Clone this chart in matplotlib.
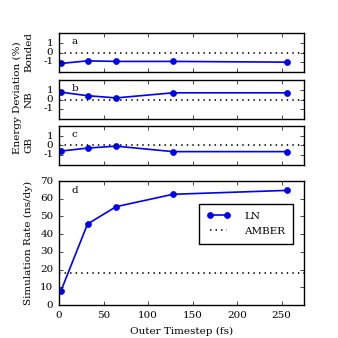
import matplotlib
matplotlib.use("Agg")
import matplotlib.pyplot as plt

plt.style.use('classic')
plt.rcParams['font.family'] = ['DejaVu Serif']
plt.rcParams['font.size'] = 7.5
plt.rcParams['axes.unicode_minus'] = False

timestep = [2, 32, 64, 128, 256]
bonded = [-1.18, -0.9, -0.96, -0.96, -1.04]
nb = [0.79, 0.41, 0.17, 0.72, 0.72]
gb = [-0.6, -0.28, -0.07, -0.66, -0.66]
rate = [7.7, 45.7, 55.5, 62.5, 64.7]
amber_rate = 18.1

panel_names = ['Bonded', 'NB', 'GB']
panel_letters = ['a', 'b', 'c', 'd']

fig = plt.figure(figsize=(3.38, 3.38), dpi=100)
fig.patch.set_facecolor('white')

left, width = 59/338, 245/338
tops = [33, 80, 126]
blue = '#0000ee'
for i, (vals, name) in enumerate(zip([bonded, nb, gb], panel_names)):
    top = tops[i]
    ax = fig.add_axes([left, 1 - (top + 39)/338, width, 39/338])
    ax.plot(timestep, vals, '-o', color=blue, mec=blue, mfc=blue, ms=4.3, lw=1.2)
    ax.axhline(0, color='k', ls=':', lw=1.2)
    ax.set_xlim(0, 275)
    ax.set_ylim(-2.1, 2.1)
    ax.set_yticks([-1, 0, 1])
    ax.set_xticks([0, 50, 100, 150, 200, 250])
    ax.set_xticklabels([])
    ax.set_ylabel(name)
    ax.yaxis.set_label_coords(-0.105, 0.5)
    ax.text(0.05, 0.9, panel_letters[i], transform=ax.transAxes, va='top', ha='left')
    ax.tick_params(length=3)

fig.text(17/338, 1 - 98/338, 'Energy Deviation (%)', rotation=90, va='center', ha='center', fontsize=7.5)

axd = fig.add_axes([left, 1 - 305/338, width, 124/338])
axd.plot(timestep, rate, '-o', color=blue, mec=blue, mfc=blue, ms=4.3, lw=1.2, label='LN')
axd.axhline(amber_rate, color='k', ls=':', lw=1.2, label='AMBER')
axd.set_xlim(0, 275)
axd.set_ylim(0, 70)
axd.set_yticks(range(0, 71, 10))
axd.set_xticks([0, 50, 100, 150, 200, 250])
axd.set_xlabel('Outer Timestep (fs)')
axd.set_ylabel('Simulation Rate (ns/dy)')
axd.text(0.05, 0.96, 'd', transform=axd.transAxes, va='top', ha='left')
axd.tick_params(length=3)
leg = axd.legend(loc='upper right', bbox_to_anchor=(0.955, 0.815), fontsize=7.5, numpoints=2,
                 handlelength=2.3, handletextpad=1.3, fancybox=False, borderpad=0.75,
                 labelspacing=0.55, borderaxespad=0)
leg.get_frame().set_linewidth(1.0)

fig.savefig('out.png', dpi=100, facecolor='white')
